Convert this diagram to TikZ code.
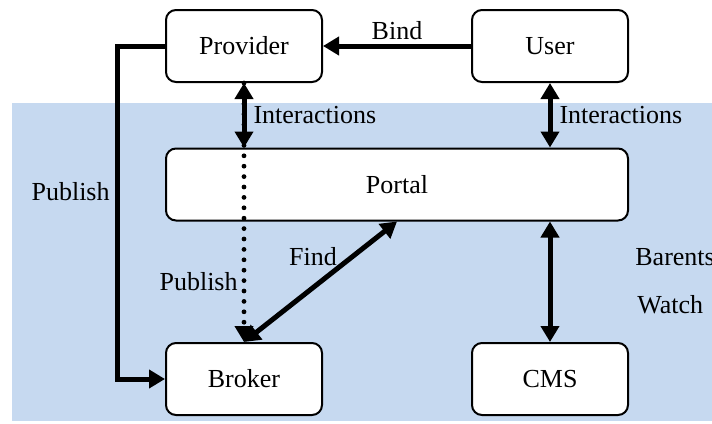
\documentclass[tikz,border=0pt]{standalone}
\usepackage{fontspec}
\setmainfont{Liberation Serif}
\usetikzlibrary{arrows.meta}
\usetikzlibrary{calc}
\definecolor{panel}{RGB}{198,217,240}

\begin{document}
\begin{tikzpicture}[x=0.5pt, y=-0.5pt,
    font=\fontsize{13}{15}\selectfont,
    box/.style={draw, line width=1pt, rounded corners=5pt, fill=white,
      minimum width=78pt, minimum height=36pt, inner sep=0pt},
    flow/.style={line width=2.5pt, -{Triangle[length=8pt,width=9pt]}},
    both/.style={line width=2.5pt, {Triangle[length=8pt,width=9pt]}-{Triangle[length=8pt,width=9pt]}},
    dots/.style={line width=2.4pt, line cap=round, dash pattern=on 0pt off 5.2pt,
      -{Triangle[length=8pt,width=9pt]}},
    lbl/.style={inner sep=2pt}]
  \clip (0,0) rectangle (712,423);
  \fill[panel] (12,103) rectangle (712,421);

  % components
  \node[box] (Provider) at (244,46) {Provider};
  \node[box] (User) at (550,46) {User};
  \node[box, minimum width=231pt] (Portal) at (397,184.5) {Portal};
  \node[box] (Broker) at (244,379) {Broker};
  \node[box] (CMS) at (550,379) {CMS};

  % publishing paths
  \draw[dots] (Provider.south) -- (Broker.north)
    node[lbl, pos=.766, left] (pubin) {Publish};
  \draw[flow] (Provider.west) -- ++(-48,0) |- (Broker.west);
  \node[lbl, anchor=east] (pubout) at (114,192) {Publish};

  \draw[flow] (User) -- (Provider) node[lbl, midway, above] (bind) {Bind};

  % portal links
  \draw[both] (Provider.south) -- (Provider.south |- Portal.north)
    node[lbl, midway, right, xshift=1.5pt] (intp) {Interactions};
  \draw[both] (User.south) -- (User.south |- Portal.north)
    node[lbl, midway, right, xshift=1.5pt] (intu) {Interactions};
  \draw[both] (Broker.north) -- (Portal.south);
  \node[lbl] (find) at (313,257) {Find};
  \draw[both] (Portal.south -| CMS.north) -- (CMS.north);

  \node[lbl, anchor=west] (barents) at (631,257) {Barents};
  \node[lbl, anchor=west] (watch) at (633,305) {Watch};
\end{tikzpicture}
\end{document}
